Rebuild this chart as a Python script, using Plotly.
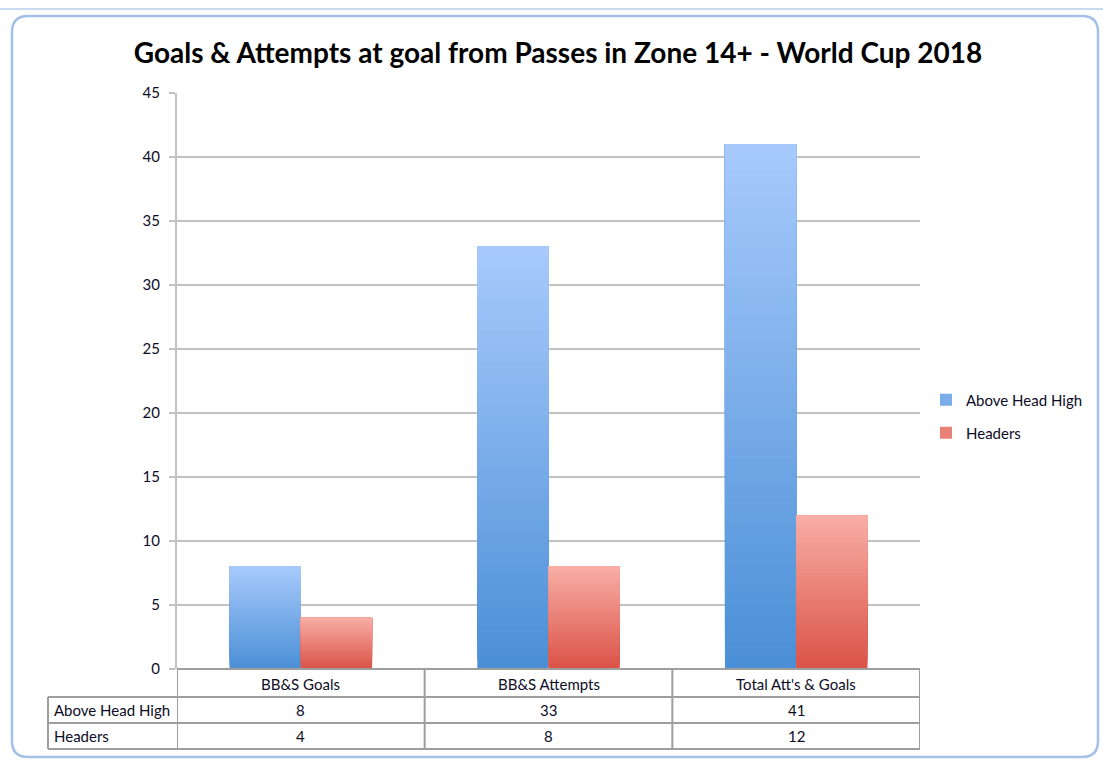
import plotly.graph_objects as go

# ---------------- data ----------------
categories = ["BB&S Goals", "BB&S Attempts", "Total Att's & Goals"]
above_head_high = [8, 33, 41]
headers = [4, 8, 12]
series_names = ["Above Head High", "Headers"]
y_tick_values = [0, 5, 10, 15, 20, 25, 30, 35, 40, 45]
title_text = "Goals & Attempts at goal from Passes in Zone 14+ - World Cup 2018"

# ---------------- layout helpers (pixel -> paper) ----------------
W, H = 1103, 762
PL, PR, PT, PB = 177, 920, 93, 669


def px_x(px):
    return (px - PL) / (PR - PL)


def px_y(py):
    return (PB - py) / (PB - PT)


def lerp(c1, c2, t):
    return "rgb(%d,%d,%d)" % tuple(round(a + (b - a) * t) for a, b in zip(c1, c2))


FONT = "Lato, 'Open Sans', sans-serif"
TEXT = "#0c0c26"
GRID = "#c2c2c2"
TABLE_LINE = "#9e9e9e"

fig = go.Figure()

# gradient bars: overlapping layers, each one from its own base up to the bar top,
# dark at the bottom, light on top
N = 40
series = [
    (series_names[0], above_head_high, (74, 143, 214), (168, 202, 252), "A", "legend"),
    (series_names[1], headers, (218, 82, 70), (248, 174, 166), "B", "legend2"),
]
for name, vals, c_bot, c_top, grp, leg in series:
    for i in range(N):
        t = (i + 0.5) / N
        fig.add_trace(go.Bar(
            x=categories,
            y=[v * (N - i) / N for v in vals],
            base=[v * i / N for v in vals],
            offsetgroup=grp,
            name=name,
            legendgroup=name,
            legend=leg,
            showlegend=(i == N // 2),
            marker=dict(color=lerp(c_bot, c_top, t), line=dict(width=0)),
            hoverinfo="skip",
        ))

shapes = []
line = dict(color=TABLE_LINE, width=2)
# table horizontal lines
for py in (697, 723, 749):
    shapes.append(dict(type="line", xref="paper", yref="paper",
                       x0=px_x(48), x1=1, y0=px_y(py), y1=px_y(py), line=line))
shapes.append(dict(type="line", xref="paper", yref="paper",
                   x0=0, x1=1, y0=0, y1=0, line=line))
# table vertical lines
shapes.append(dict(type="line", xref="paper", yref="paper",
                   x0=px_x(48), x1=px_x(48), y0=px_y(697), y1=px_y(749), line=line))
for xb in (-0.5, 0.5, 1.5, 2.5):
    shapes.append(dict(type="line", xref="x", yref="paper",
                       x0=xb, x1=xb, y0=0, y1=px_y(749), line=line))

# outer rounded frame
x0, x1, y0, y1, r = 12, 1098, 16, 757, 16


def P(px, py):
    return "%f,%f" % (px_x(px), px_y(py))


path = ("M " + P(x0 + r, y0) + " L " + P(x1 - r, y0) + " Q " + P(x1, y0) + " " + P(x1, y0 + r) +
        " L " + P(x1, y1 - r) + " Q " + P(x1, y1) + " " + P(x1 - r, y1) +
        " L " + P(x0 + r, y1) + " Q " + P(x0, y1) + " " + P(x0, y1 - r) +
        " L " + P(x0, y0 + r) + " Q " + P(x0, y0) + " " + P(x0 + r, y0) + " Z")
shapes.append(dict(type="path", xref="paper", yref="paper", path=path,
                   line=dict(color="#a3c0e8", width=2.5), layer="below"))
# excel sheet strip at top
shapes.append(dict(type="line", xref="paper", yref="paper",
                   x0=px_x(0), x1=px_x(W), y0=px_y(9), y1=px_y(9),
                   line=dict(color="#c9dbf2", width=2)))

annotations = []
cell_font = dict(family=FONT, size=15, color=TEXT)
for i, cat in enumerate(categories):
    annotations.append(dict(x=i, y=px_y(684), xref="x", yref="paper", text=cat,
                            showarrow=False, font=cell_font, xanchor="center", yanchor="middle"))
rows = [(series_names[0], above_head_high, 710), (series_names[1], headers, 736)]
for label, vals, py in rows:
    annotations.append(dict(x=px_x(52), y=px_y(py), xref="paper", yref="paper", text=label,
                            showarrow=False, font=cell_font,
                            xanchor="left", yanchor="middle"))
    for i, v in enumerate(vals):
        annotations.append(dict(x=i, y=px_y(py), xref="x", yref="paper", text=str(v),
                                showarrow=False, font=cell_font,
                                xanchor="center", yanchor="middle"))

fig.update_layout(
    width=W, height=H,
    margin=dict(l=PL, r=W - PR, t=PT, b=H - PB, pad=0),
    paper_bgcolor="white", plot_bgcolor="white",
    barmode="group", bargap=0.425, bargroupgap=0,
    font=dict(family=FONT, size=14, color=TEXT),
    title=dict(text="<b>" + title_text + "</b>", xref="container", yref="container",
               x=558 / W, y=1 - 53 / H, xanchor="center", yanchor="middle",
               font=dict(family=FONT, size=28, color="#000000")),
    xaxis=dict(type="category", showticklabels=False, showgrid=False, ticks="",
               showline=False, zeroline=False, range=[-0.5, 2.5]),
    yaxis=dict(range=[0, 45], tickvals=y_tick_values, showgrid=True, gridcolor=GRID, gridwidth=2,
               showline=True, linecolor=GRID, linewidth=2, ticks="outside", ticklen=6,
               tickcolor=GRID, tickwidth=2, zeroline=False, ticklabelstandoff=6,
               tickfont=dict(family=FONT, size=15, color=TEXT)),
    legend=dict(x=px_x(926), y=px_y(400), xanchor="left", yanchor="middle",
                bgcolor="rgba(0,0,0,0)", font=dict(family=FONT, size=15, color=TEXT),
                itemwidth=30),
    legend2=dict(x=px_x(926), y=px_y(433), xanchor="left", yanchor="middle",
                 bgcolor="rgba(0,0,0,0)", font=dict(family=FONT, size=15, color=TEXT),
                 itemwidth=30),
    shapes=shapes,
    annotations=annotations,
)

fig.write_html("out.html")
